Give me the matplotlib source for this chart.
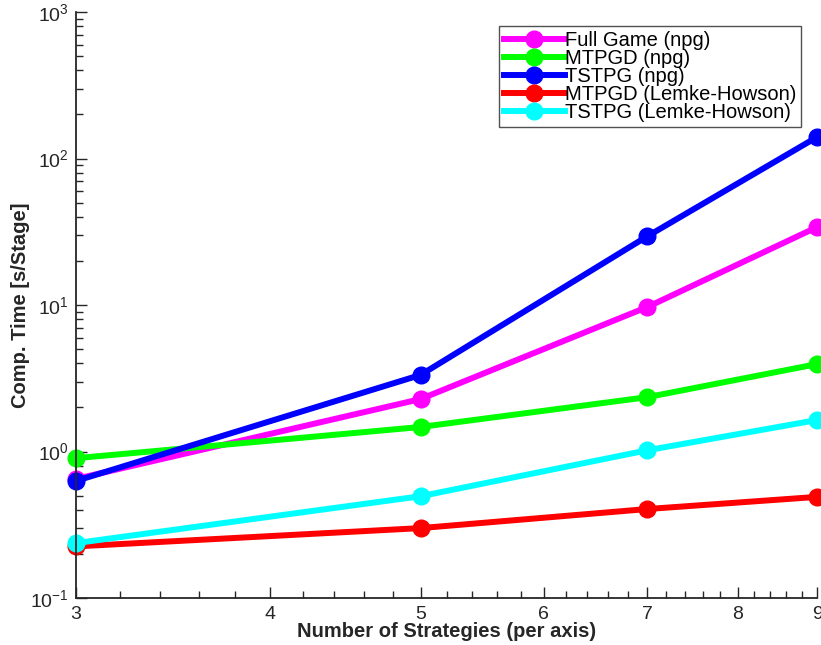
import matplotlib
matplotlib.use("Agg")
import matplotlib.pyplot as plt
from matplotlib.ticker import FixedLocator, NullFormatter, FixedFormatter, LogLocator

plt.rcParams['font.family'] = ['Liberation Sans', 'DejaVu Sans']
plt.rcParams['mathtext.fontset'] = 'custom'
plt.rcParams['mathtext.rm'] = 'Liberation Sans'
plt.rcParams['mathtext.it'] = 'Liberation Sans'
plt.rcParams['mathtext.default'] = 'regular'
plt.rcParams['axes.unicode_minus'] = False

strategies = [3, 5, 7, 9]
full_game_npg = [0.65, 2.28, 9.7, 34.0]
mtpgd_npg = [0.90, 1.47, 2.35, 3.95]
tstpg_npg = [0.63, 3.33, 29.5, 140.0]
mtpgd_lh = [0.225, 0.30, 0.405, 0.49]
tstpg_lh = [0.237, 0.495, 1.02, 1.64]
y_ticks = [0.1, 1, 10, 100, 1000]
y_tick_labels = ['$10^{-1}$', '$10^{0}$', '$10^{1}$', '$10^{2}$', '$10^{3}$']

series = [
    ("Full Game (npg)", full_game_npg, "#ff00ff"),
    ("MTPGD (npg)", mtpgd_npg, "#00ff00"),
    ("TSTPG (npg)", tstpg_npg, "#0000ff"),
    ("MTPGD (Lemke-Howson)", mtpgd_lh, "#ff0000"),
    ("TSTPG (Lemke-Howson)", tstpg_lh, "#00ffff"),
]

fig = plt.figure(figsize=(8.21, 6.45), dpi=100)
ax = fig.add_axes([76/821, 1-598/645, (817-76)/821, (598-12)/645])

for name, vals, col in series:
    ax.plot(strategies, vals, '-o', color=col, lw=4.3, ms=12, label=name, clip_on=False)

ax.set_xscale('log')
ax.set_yscale('log')
ax.set_xlim(3, 9)
ax.set_ylim(0.1, 1000)

xt = [3, 4, 5, 6, 7, 8, 9]
ax.xaxis.set_major_locator(FixedLocator(xt))
ax.xaxis.set_major_formatter(FixedFormatter([str(v) for v in xt]))
minor = [round(3 + 0.2*i, 1) for i in range(31)]
minor = [m for m in minor if m not in xt]
ax.xaxis.set_minor_locator(FixedLocator(minor))
ax.xaxis.set_minor_formatter(NullFormatter())
ax.yaxis.set_major_locator(FixedLocator(y_ticks))
ax.yaxis.set_major_formatter(FixedFormatter(y_tick_labels))
ax.yaxis.set_minor_locator(LogLocator(base=10, subs=range(2, 10), numticks=10))
ax.yaxis.set_minor_formatter(NullFormatter())

ax.tick_params(which='both', direction='in', colors='#262626', labelsize=14, width=1.0)
ax.tick_params(which='major', length=8)
ax.tick_params(which='minor', length=5)
ax.tick_params(axis='x', pad=6)
ax.tick_params(axis='y', pad=5)
for s in ['top', 'right']:
    ax.spines[s].set_visible(False)
for s in ['left', 'bottom']:
    ax.spines[s].set_color('#262626')
    ax.spines[s].set_linewidth(1.3)

ax.set_xlabel('Number of Strategies (per axis)', fontsize=14.5, fontweight='bold', color='#262626', labelpad=-1)
ax.set_ylabel('Comp. Time [s/Stage]', fontsize=14.5, fontweight='bold', color='#262626', labelpad=0)

leg = ax.legend(loc='upper right', bbox_to_anchor=(801/821, 1-26/645), bbox_transform=fig.transFigure,
                fontsize=14.5, frameon=True, fancybox=False, handlelength=3.0, handletextpad=0.0,
                labelspacing=-0.05, borderpad=0.25, borderaxespad=0)
leg.get_frame().set_edgecolor('#262626')
leg.get_frame().set_linewidth(1.0)

fig.savefig('out.png', dpi=100)
